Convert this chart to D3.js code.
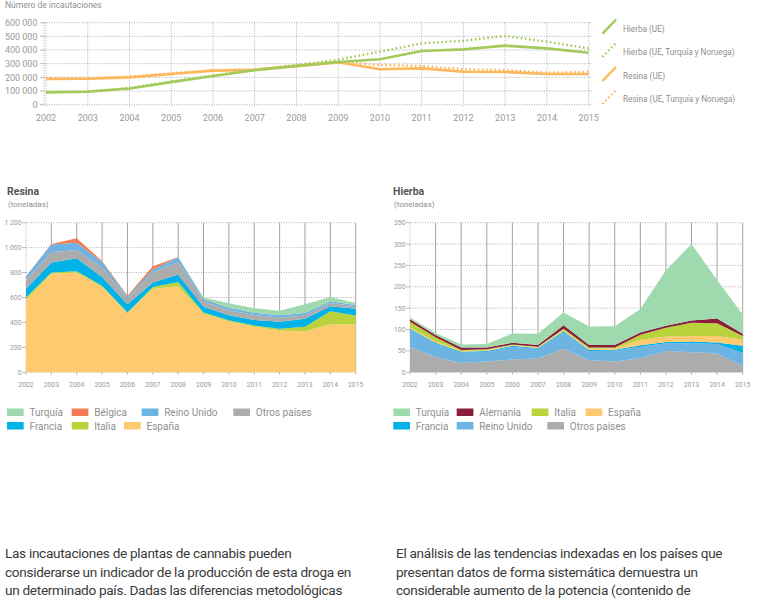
<!DOCTYPE html>
<html><head><meta charset="utf-8">
<script src="https://cdn.jsdelivr.net/npm/d3@7"></script>
<style>
body{margin:0;background:#fff;}
svg{display:block;font-family:Roboto,"Noto Sans",sans-serif;}
.para{position:absolute;font-family:Roboto,"Noto Sans",sans-serif;font-size:13.6px;line-height:18.5px;color:#3a3a3a;white-space:nowrap;letter-spacing:-0.3px;}
</style></head>
<body>
<div id="wrap" style="position:relative;width:761px;height:599px;overflow:hidden;">
<svg id="chart" width="761" height="599"></svg>
<div class="para" style="left:5px;top:544px;">Las incautaciones de plantas de cannabis pueden<br>considerarse un indicador de la producción de esta droga en<br>un determinado país. Dadas las diferencias metodológicas</div>
<div class="para" style="left:396px;top:544px;">El análisis de las tendencias indexadas en los países que<br>presentan datos de forma sistemática demuestra un<br>considerable aumento de la potencia (contenido de</div>
</div>
<script>
// ---------- DATA ----------
const years = [2002,2003,2004,2005,2006,2007,2008,2009,2010,2011,2012,2013,2014,2015];
const topTicks = [0,100000,200000,300000,400000,500000,600000];
const topTickLabels = ["0","100 000","200 000","300 000","400 000","500 000","600 000"];
const hierbaUE      = [90000,95000,118000,165000,210000,252000,283000,312000,332000,393000,405000,432000,412000,380000];
const hierbaUETN    = [93000,98000,122000,170000,214000,256000,290000,330000,388000,449000,468000,503000,461000,412000];
const resinaUE      = [188000,190000,200000,225000,249000,255000,282000,310000,259000,266000,241000,239000,225000,225000];
const resinaUETN    = [195000,195000,205000,230000,252000,258000,288000,315000,290000,283000,259000,254000,234000,241000];
const topSeriesNames = ["Hierba (UE)","Hierba (UE, Turquía y Noruega)","Resina (UE)","Resina (UE, Turquía y Noruega)"];

// Resina (toneladas), stack order bottom -> top
const resinaKeys = ["España","Italia","Francia","Otros países","Reino Unido","Bélgica","Turquía"];
const resEspana  = [580,790,800,685,475,670,690,470,410,365,335,330,385,385];
const resItalia  = [20,10,10,10,5,15,35,10,8,10,15,35,105,70];
const resFrancia = [70,80,105,70,65,35,60,45,40,45,55,65,40,55];
const resOtros   = [70,85,65,75,45,80,100,40,40,40,35,25,25,20];
const resRU      = [30,60,60,45,15,25,35,20,20,18,18,20,15,10];
const resBelgica = [0,5,35,8,10,25,3,5,0,0,0,0,0,0];
const resTurquia = [0,0,0,0,0,0,3,10,35,35,35,70,35,15];
const resTicks = [0,200,400,600,800,1000,1200];
const resTickLabels = ["0","200","400","600","800","1 000","1 200"];

// Hierba (toneladas), stack order bottom -> top
const hierbaKeys = ["Otros países","Reino Unido","Francia","España","Italia","Alemania","Turquía"];
const hieOtros   = [60,35,22,25,30,32,55,28,25,33,50,47,44,15];
const hieRU      = [40,32,24,23,30,23,38,22,26,27,18,21,22,31];
const hieFrancia = [2,2,2,2,2,2,3,2,2,3,3,4,4,16];
const hieEspana  = [3,3,2,2,1,2,3,3,3,13,13,13,15,15];
const hieItalia  = [13,10,2,2,2,1,3,3,2,12,20,31,30,8];
const hieAlemania= [6,5,6,4,4,4,8,6,6,5,5,5,11,5];
const hieTurquia = [4,5,7,8,22,26,30,43,44,55,130,179,90,45];
const hieTicks = [0,50,100,150,200,250,300,350];

// ---------- STYLE ----------
const colors = {
  "España":"#fdca70","Italia":"#b8d33c","Francia":"#00b2e8","Otros países":"#acacac",
  "Reino Unido":"#6db4e2","Bélgica":"#f47c55","Turquía":"#9fd9ae","Alemania":"#8b1d3b"
};
const green = "#a2cb5c", orange = "#fdb75c";
const gray = "#8f8f8f";

const svg = d3.select("#chart");

// ---------- TOP LINE CHART ----------
(function(){
  const x = d3.scaleLinear().domain([2002,2015]).range([46,588.7]);
  const y = d3.scaleLinear().domain([0,600000]).range([104.7,22.7]);
  const g = svg.append("g");
  g.append("text").attr("x",5).attr("y",8).attr("font-size",8.5).attr("fill",gray).text("Número de incautaciones");
  g.selectAll(".hg").data(topTicks).join("line")
    .attr("x1",44).attr("x2",592).attr("y1",d=>y(d)).attr("y2",d=>y(d))
    .attr("stroke","#9a9a9a").attr("stroke-width",0.8).attr("stroke-dasharray","1,1.5");
  g.selectAll(".vg").data(years).join("line")
    .attr("x1",d=>x(d)).attr("x2",d=>x(d)).attr("y1",22.7).attr("y2",107)
    .attr("stroke","#9a9a9a").attr("stroke-width",0.8).attr("stroke-dasharray","1,1.5");
  g.append("line").attr("x1",44).attr("x2",44).attr("y1",22.7).attr("y2",104.7).attr("stroke","#9a9a9a").attr("stroke-width",0.8).attr("stroke-dasharray","1,1.5");
  g.selectAll(".tk").data(topTicks).join("line")
    .attr("x1",40).attr("x2",44).attr("y1",d=>y(d)).attr("y2",d=>y(d)).attr("stroke","#aaa").attr("stroke-width",0.8);
  g.selectAll(".yl").data(topTicks).join("text")
    .attr("x",37.5).attr("y",d=>y(d)+3.2).attr("text-anchor","end").attr("font-size",9).attr("fill","#999")
    .text((d,i)=>topTickLabels[i]);
  g.selectAll(".xl").data(years).join("text")
    .attr("x",d=>x(d)).attr("y",121).attr("text-anchor","middle").attr("font-size",9).attr("fill","#999").text(d=>d);
  const line = d3.line().x((d,i)=>x(years[i])).y(d=>y(d));
  g.append("path").attr("d",line(resinaUE)).attr("fill","none").attr("stroke",orange).attr("stroke-width",2.6);
  g.append("path").attr("d",line(resinaUETN)).attr("fill","none").attr("stroke",orange).attr("stroke-width",2.4).attr("stroke-dasharray","1.6,2.6");
  g.append("path").attr("d",line(hierbaUE)).attr("fill","none").attr("stroke",green).attr("stroke-width",2.6);
  g.append("path").attr("d",line(hierbaUETN)).attr("fill","none").attr("stroke",green).attr("stroke-width",2.4).attr("stroke-dasharray","1.6,2.6");
  const leg = [
    {c:green,dash:null,y:31.7},{c:green,dash:"1.6,2.6",y:55},
    {c:orange,dash:null,y:79},{c:orange,dash:"1.6,2.6",y:102}
  ];
  leg.forEach((l,i)=>{
    g.append("line").attr("x1",602.5).attr("y1",l.y+2).attr("x2",616).attr("y2",l.y-12)
      .attr("stroke",l.c).attr("stroke-width",2.4).attr("stroke-dasharray",l.dash);
    g.append("text").attr("x",623).attr("y",l.y).attr("font-size",8.2).attr("fill",gray).text(topSeriesNames[i]);
  });
})();

// ---------- STACKED AREA CHART ----------
function areaChart(opts){
  const {x0,x1,y0,y1,max,ticks,tickLabels,keys,series,title} = opts;
  const x = d3.scaleLinear().domain([2002,2015]).range([x0,x1]);
  const y = d3.scaleLinear().domain([0,max]).range([y0,y1]);
  const g = svg.append("g");
  g.append("text").attr("x",opts.titleX).attr("y",195).attr("font-size",10.5).attr("font-weight","bold").attr("fill","#555").text(title);
  g.append("text").attr("x",opts.titleX+1).attr("y",206.5).attr("font-size",8).attr("fill",gray).text("(toneladas)");
  g.selectAll(".vg").data(years.slice(1)).join("line")
    .attr("x1",d=>x(d)).attr("x2",d=>x(d)).attr("y1",y1).attr("y2",y0)
    .attr("stroke","#999").attr("stroke-width",0.9);
  g.selectAll(".hg").data(ticks).join("line")
    .attr("x1",x0).attr("x2",x1).attr("y1",d=>y(d)).attr("y2",d=>y(d))
    .attr("stroke","#9a9a9a").attr("stroke-width",0.8).attr("stroke-dasharray","1,1.5");
  g.append("line").attr("x1",x0).attr("x2",x0).attr("y1",y1).attr("y2",y0)
    .attr("stroke","#9a9a9a").attr("stroke-width",0.8).attr("stroke-dasharray","1,1.5");
  g.selectAll(".tk").data(ticks).join("line")
    .attr("x1",x0-4).attr("x2",x0).attr("y1",d=>y(d)).attr("y2",d=>y(d)).attr("stroke","#aaa").attr("stroke-width",0.8);
  g.selectAll(".yl").data(ticks).join("text")
    .attr("x",x0-4.5).attr("y",d=>y(d)+2.5).attr("text-anchor","end").attr("font-size",6.8).attr("fill","#999")
    .text((d,i)=>tickLabels[i]);
  const table = years.map((yr,i)=>{const o={year:yr}; keys.forEach((k,j)=>o[k]=series[j][i]); return o;});
  const stack = d3.stack().keys(keys)(table);
  const area = d3.area().x(d=>x(d.data.year)).y0(d=>y(d[0])).y1(d=>y(d[1]));
  g.selectAll(".ar").data(stack).join("path").attr("d",area).attr("fill",d=>colors[d.key]);
  g.selectAll(".xt").data(years).join("line")
    .attr("x1",d=>x(d)).attr("x2",d=>x(d)).attr("y1",y0).attr("y2",y0+2.5).attr("stroke","#aaa").attr("stroke-width",0.8);
  g.selectAll(".xl").data(years).join("text")
    .attr("x",d=>x(d)).attr("y",386.5).attr("text-anchor","middle").attr("font-size",6.8).attr("fill","#999").text(d=>d);
  opts.legend.forEach(l=>{
    g.append("rect").attr("x",l.x).attr("y",l.y-4.5).attr("width",16.7).attr("height",7.5).attr("fill",colors[l.k]);
    g.append("text").attr("x",l.x+22.5).attr("y",l.y+3.3).attr("font-size",10).attr("fill",gray).text(l.k);
  });
}

areaChart({
  x0:26,x1:355.7,y0:372.3,y1:222.7,max:1200,ticks:resTicks,tickLabels:resTickLabels,
  keys:resinaKeys,series:[resEspana,resItalia,resFrancia,resOtros,resRU,resBelgica,resTurquia],
  title:"Resina",titleX:7,
  legend:[
    {k:"Turquía",x:7,y:413},{k:"Bélgica",x:71.7,y:413},{k:"Reino Unido",x:141.7,y:413},{k:"Otros países",x:233.3,y:413},
    {k:"Francia",x:7,y:426.5},{k:"Italia",x:71.7,y:426.5},{k:"España",x:124,y:426.5}
  ]
});
areaChart({
  x0:410,x1:742.7,y0:372.3,y1:222.7,max:350,ticks:hieTicks,tickLabels:hieTicks.map(String),
  keys:hierbaKeys,series:[hieOtros,hieRU,hieFrancia,hieEspana,hieItalia,hieAlemania,hieTurquia],
  title:"Hierba",titleX:393,
  legend:[
    {k:"Turquía",x:393.3,y:413},{k:"Alemania",x:456.7,y:413},{k:"Italia",x:531.7,y:413},{k:"España",x:585.6,y:413},
    {k:"Francia",x:393.3,y:426.5},{k:"Reino Unido",x:456.7,y:426.5},{k:"Otros países",x:547.3,y:426.5}
  ]
});
</script>
</body></html>
